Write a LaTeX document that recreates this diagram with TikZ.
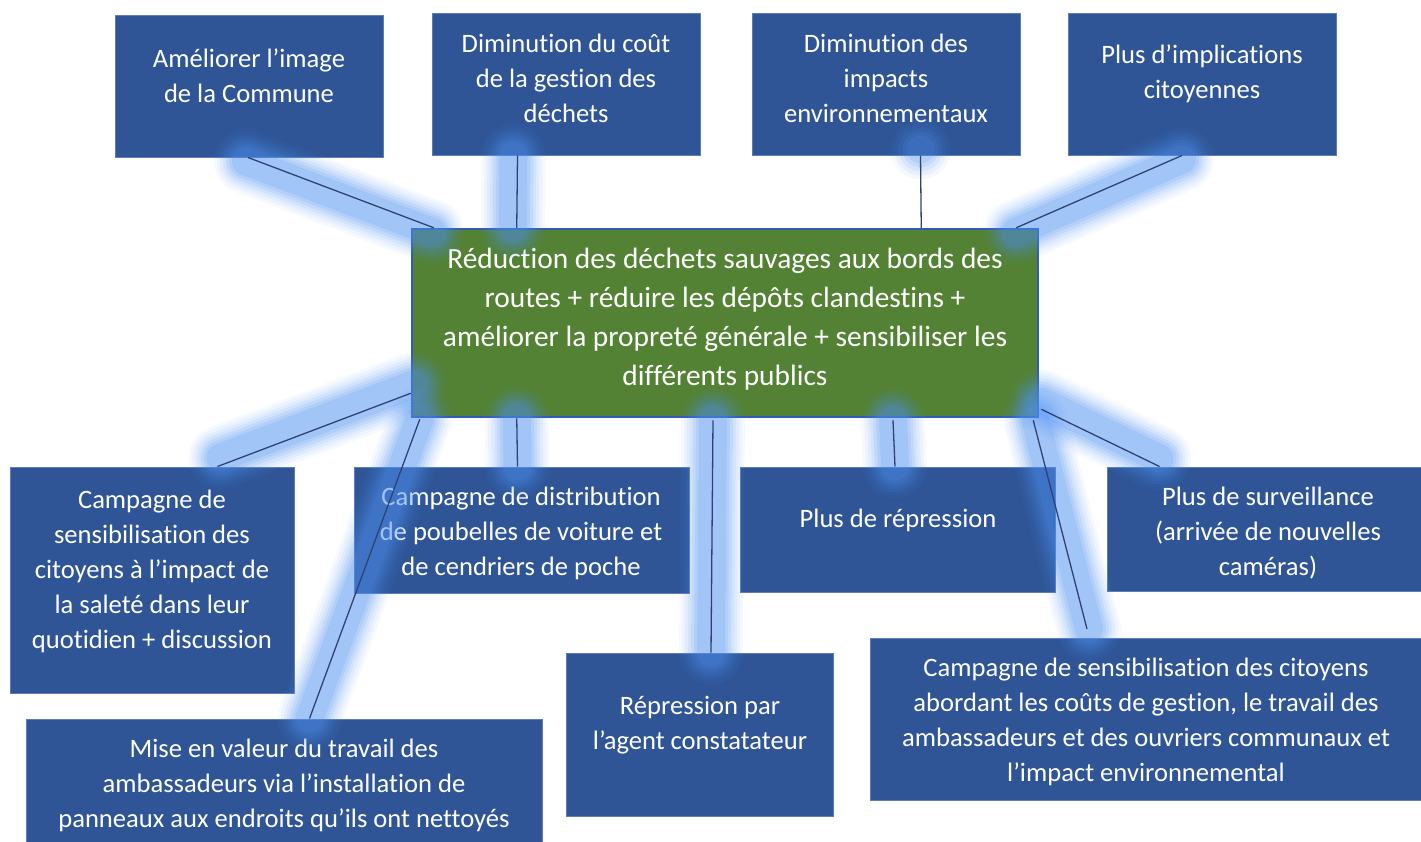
\documentclass[tikz,border=0pt]{standalone}
\usepackage{fontspec}
\setmainfont{Carlito}[Ligatures=NoCommon]
\usetikzlibrary{calc}
\definecolor{boxfill}{HTML}{2F5597}
\definecolor{boxline}{HTML}{5A7DBD}
\definecolor{greenfill}{HTML}{548235}
\definecolor{greenline}{HTML}{2F5CB8}
\definecolor{glowc}{RGB}{80,145,242}
\definecolor{linkc}{HTML}{2E4374}
\tikzset{
  box/.style={rectangle, fill=boxfill, draw=boxline, line width=1pt, inner sep=0pt},
  central/.style={rectangle, fill=greenfill, draw=greenline, line width=2.5pt, inner sep=0pt},
  txt/.style={text=white, align=center, inner sep=0pt, font=\fontsize{26.6}{35}\selectfont},
  ctxt/.style={text=white, align=center, inner sep=0pt, font=\fontsize{29.4}{39}\selectfont},
  link/.style={draw=linkc, line width=1.3pt},
}
\newcommand{\glowline}[3][0,0]{%
  \foreach \w/\o in {64/0.05,58/0.06,52/0.08,46/0.1,40/0.12,34/0.14,28/0.16}{%
    \draw[glowc, line width=\w, opacity=\o, line cap=round] ($(#2)+(#1)$) -- ($(#3)+(#1)$);}%
}
\begin{document}
\begin{tikzpicture}[x=1pt,y=-1pt]
\useasboundingbox (0,0) rectangle (1421,841);
\clip (0,0) rectangle (1421,841);
% boxes
\node[box, minimum width=268, minimum height=142] (b1) at (249,86) {};
\node[box, minimum width=268, minimum height=142] (b2) at (566,84) {};
\node[box, minimum width=268, minimum height=142] (b3) at (886,84) {};
\node[box, minimum width=268, minimum height=142] (b4) at (1202,84) {};
\node[central, minimum width=626, minimum height=188] (c) at (725,323) {};
\node[box, minimum width=284, minimum height=226] (b5) at (152,580) {};
\node[box, minimum width=335, minimum height=126] (b6) at (521.5,530) {};
\node[box, minimum width=315, minimum height=125] (b7) at (897.5,529.5) {};
\node[box, minimum width=316, minimum height=124] (b8) at (1265,529) {};
\node[box, minimum width=516, minimum height=141] (b9) at (284,789.5) {};
\node[box, minimum width=267, minimum height=163] (b10) at (699.5,734.5) {};
\node[box, minimum width=553, minimum height=162] (b11) at (1146.5,719) {};
% texts
\node[txt] (t1) at (249,75.5) {Améliorer l’image\\de la Commune};
\node[txt] (t2) at (566,78) {Diminution du coût\\de la gestion des\\déchets};
\node[txt] (t3) at (886,78) {Diminution des\\impacts\\environnementaux};
\node[txt] (t4) at (1202,74) {Plus d’implications\\citoyennes};
\node[ctxt] (tc) at (725,319) {Réduction des déchets sauvages aux bords des\\routes + réduire les dépôts clandestins +\\améliorer la propreté générale + sensibiliser les\\différents publics};
\node[txt] (t5) at (152,571) {Campagne de\\sensibilisation des\\citoyens à l’impact de\\la saleté dans leur\\quotidien + discussion};
\node[txt] (t6) at (521,533) {Campagne de distribution\\de poubelles de voiture et\\de cendriers de poche};
\node[txt] (t7) at (898,520) {Plus de répression};
\node[txt] (t8) at (1268,533) {Plus de surveillance\\(arrivée de nouvelles\\caméras)};
\node[txt] (t9) at (284,785) {Mise en valeur du travail des\\ambassadeurs via l’installation de\\panneaux aux endroits qu’ils ont nettoyés};
\node[txt] (t10) at (700,725.5) {Répression par\\l’agent constatateur};
\node[txt] (t11) at (1146,722) {Campagne de sensibilisation des citoyens\\abordant les coûts de gestion, le travail des\\ambassadeurs et des ouvriers communaux et\\l’impact environnemental};
% connector end points
\coordinate (e1a) at ($(b1.south)+(-1,0)$);
\coordinate (e1b) at ($(c.north west)+(23,0)$);
\coordinate (e2a) at ($(b2.south west)+(86,0)$);
\coordinate (e2b) at ($(c.north west)+(106,0)$);
\coordinate (e3a) at ($(b3.south east)+(-100,0)$);
\coordinate (e3b) at ($(c.north east)+(-118,0)$);
\coordinate (e4a) at ($(b4.south)+(-20,0)$);
\coordinate (e4b) at ($(c.north east)+(-23,0)$);
\coordinate (e5a) at ($(c.south west)+(0,-25)$);
\coordinate (e5b) at ($(b5.north west)+(208,0)$);
\coordinate (e9a) at ($(c.south west)+(9,1)$);
\coordinate (e9b) at ($(b9.north west)+(284,0)$);
\coordinate (e6a) at ($(c.south west)+(106,0)$);
\coordinate (e6b) at ($(b6.north west)+(164,0)$);
\coordinate (e10a) at ($(c.south)+(-12,2)$);
\coordinate (e10b) at ($(b10.north)+(11.5,0)$);
\coordinate (e7a) at ($(c.south)+(168,2)$);
\coordinate (e7b) at ($(b7.north)+(-2.5,0)$);
\coordinate (e11a) at ($(c.south east)+(-6,2)$);
\coordinate (e11b) at (1087,629);
\coordinate (e8a) at ($(c.south east)+(2,-9)$);
\coordinate (e8b) at ($(b8.north west)+(53,0)$);
% glows
\glowline[-2,4]{e1a}{e1b}
\glowline[-4,0]{e2a}{e2b}
\glowline[0,4]{e4a}{e4b}
\glowline[3,-9]{e5a}{e5b}
\glowline{e9a}{e9b}
\glowline{e6a}{e6b}
\glowline{e10a}{e10b}
\glowline{e7a}{e7b}
\glowline[2,0]{e11a}{e11b}
\glowline[0,-8]{e8a}{e8b}
\foreach \r/\o in {30/0.06,26/0.08,22/0.1,18/0.13,14/0.16}{%
  \fill[glowc, opacity=\o] ($(e3a)+(0,-6)$) circle (\r);}
% connectors
\draw[link] (e1a) -- (e1b);
\draw[link] (e2a) -- (e2b);
\draw[link] (e3a) -- (e3b);
\draw[link] (e4a) -- (e4b);
\draw[link] (e5a) -- (e5b);
\draw[link] (e9a) -- (e9b);
\draw[link] (e6a) -- (e6b);
\draw[link] (e10a) -- (e10b);
\draw[link] (e7a) -- (e7b);
\draw[link] (e11a) -- (e11b);
\draw[link] (e8a) -- (e8b);
\end{tikzpicture}
\end{document}
